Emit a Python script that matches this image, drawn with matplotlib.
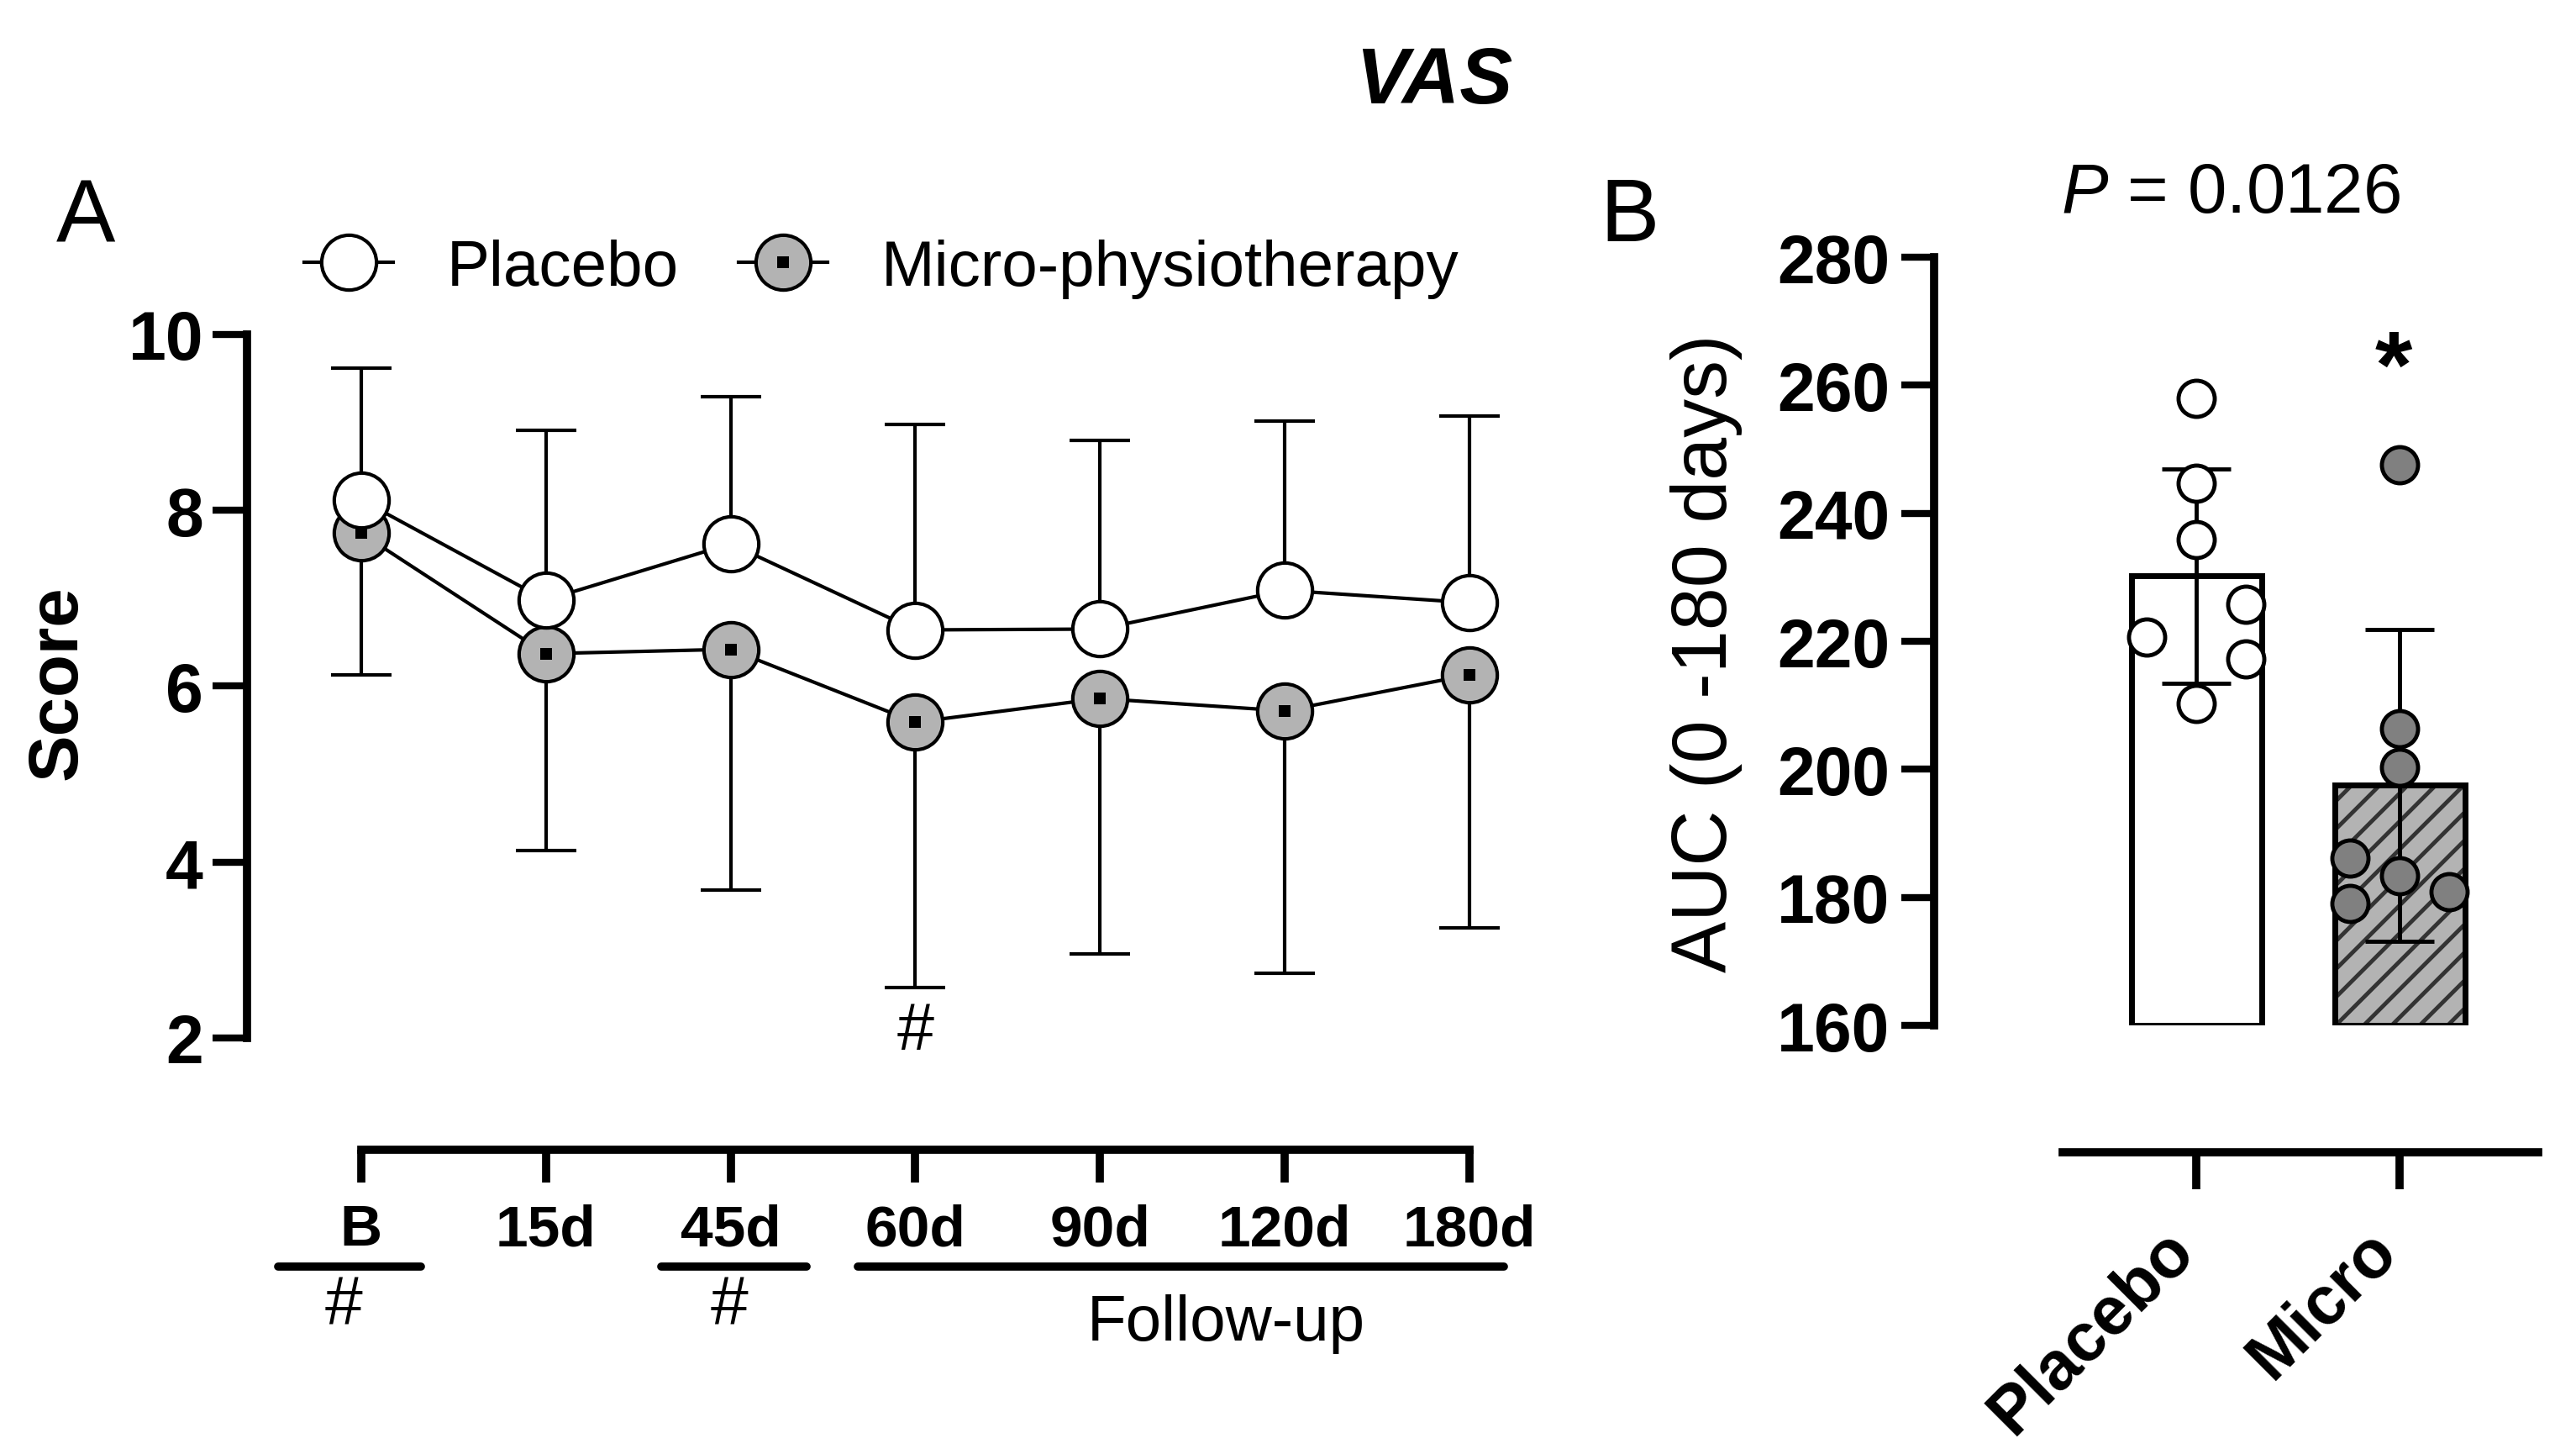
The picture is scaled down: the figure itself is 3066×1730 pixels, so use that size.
import matplotlib
matplotlib.use("Agg")
import matplotlib.pyplot as plt
import matplotlib.transforms as mtransforms

plt.rcParams['font.family'] = 'Liberation Sans'
plt.rcParams['mathtext.fontset'] = 'custom'
plt.rcParams['mathtext.rm'] = 'Liberation Sans'
plt.rcParams['mathtext.it'] = 'Liberation Sans:italic'
plt.rcParams['hatch.linewidth'] = 3.5

# Painel A: escore VAS ao longo do tempo (média, barra de erro de um lado)
timepoints = ['B', '15d', '45d', '60d', '90d', '120d', '180d']
placebo_mean = [8.12, 6.98, 7.62, 6.64, 6.65, 7.09, 6.95]
placebo_upper = [9.62, 8.91, 9.29, 8.98, 8.80, 9.02, 9.07]
micro_mean = [7.74, 6.37, 6.42, 5.59, 5.86, 5.72, 6.13]
micro_lower = [6.13, 4.13, 3.68, 2.57, 2.96, 2.74, 3.25]

# Painel B: AUC (0-180 dias)
groups = ['Placebo', 'Micro']
auc_mean = [230.2, 197.5]
auc_sd = [16.7, 24.3]
auc_placebo = [258.0, 244.7, 235.9, 220.6, 225.8, 217.3, 210.3]
auc_micro = [247.6, 206.3, 200.3, 186.1, 179.1, 183.4, 180.9]

gray = '#b3b3b3'
dark_gray = '#808080'

fig = plt.figure(figsize=(30.66, 17.31), dpi=100)

# ---------------- Painel A ----------------
ax1 = fig.add_axes([0.0959, 0.2860, 0.4961, 0.4835])
x = list(range(len(timepoints)))
ax1.set_xlim(-0.617, 6.3)
ax1.set_ylim(2, 10)

# barras de erro
ax1.vlines(x, micro_mean, micro_lower, color='k', lw=3, zorder=2)
ax1.plot(x, micro_lower, ls='none', marker='_', ms=52, mew=3, color='k', zorder=2, clip_on=False)
ax1.vlines(x, placebo_mean, placebo_upper, color='k', lw=3, zorder=2)
ax1.plot(x, placebo_upper, ls='none', marker='_', ms=52, mew=3, color='k', zorder=2, clip_on=False)

mi_line, = ax1.plot(x, micro_mean, '-o', color='k', lw=3, mfc=gray, mec='k', ms=47, mew=3,
                    zorder=3, clip_on=False)
mi_sq, = ax1.plot(x, micro_mean, 's', color='k', ms=10, mew=0, zorder=4, clip_on=False)
pl_line, = ax1.plot(x, placebo_mean, '-o', color='k', lw=3, mfc='white', mec='k', ms=47, mew=3,
                    zorder=5, clip_on=False)

for s in ['top', 'right']:
    ax1.spines[s].set_visible(False)
ax1.spines['left'].set_linewidth(7)
ax1.spines['bottom'].set_linewidth(7)
ax1.spines['bottom'].set_position(('outward', 95.5))
ax1.spines['bottom'].set_bounds(0, 6)

ax1.set_xticks(x, timepoints, fontweight='bold', fontsize=50)
ax1.set_yticks([2, 4, 6, 8, 10], ['2', '4', '6', '8', '10'], fontweight='bold', fontsize=58)
ax1.tick_params(axis='x', length=28, width=7, pad=18)
ax1.tick_params(axis='y', length=29.5, width=6, pad=8)

ax1.text(3, 2.07, '#', ha='center', va='center', fontsize=57)

# grupos abaixo do eixo x
tr = mtransforms.blended_transform_factory(ax1.transData, fig.transFigure)
for x0, x1 in [(-0.45, 0.325), (1.624, 2.41), (2.69, 6.185)]:
    ax1.plot([x0, x1], [0.129, 0.129], color='k', lw=7, solid_capstyle='round',
             transform=tr, clip_on=False)
ax1.text(-0.093, 0.102, '#', transform=tr, ha='center', va='center', fontsize=58)
ax1.text(1.994, 0.102, '#', transform=tr, ha='center', va='center', fontsize=58)
ax1.text(4.68, 0.0786, 'Follow-up', transform=tr, ha='center', va='baseline', fontsize=55)

fig.legend([pl_line, (mi_line, mi_sq)], ['Placebo', 'Micro-physiotherapy'],
           loc='center left', bbox_to_anchor=(0.118, 0.815), ncol=2, frameon=False,
           fontsize=55, borderpad=0, borderaxespad=0, handlelength=1.39,
           handletextpad=0.84, columnspacing=0.92, numpoints=1)

fig.text(0.0223, 0.531, 'Score', rotation=90, ha='center', va='center',
         fontsize=60, fontweight='bold')

# ---------------- Painel B ----------------
ax2 = fig.add_axes([0.7508, 0.2946, 0.2344, 0.528])
ax2.set_xlim(-1.29, 1.68)
ax2.set_ylim(160, 280)

heights = [m - 160 for m in auc_mean]
ax2.bar(0, heights[0], bottom=160, width=0.64, facecolor='white', edgecolor='k', lw=5, zorder=1)
ax2.bar(1, heights[1], bottom=160, width=0.64, facecolor=gray, edgecolor='#333333', hatch='/',
        lw=0, zorder=1)
ax2.bar(1, heights[1], bottom=160, width=0.64, fill=False, edgecolor='k', lw=5, zorder=1.5)

ax2.errorbar([0, 1], auc_mean, yerr=auc_sd, fmt='none', ecolor='k', elinewidth=3.5,
             capsize=29.5, capthick=3.5, zorder=2)

jitter_pl = [0, 0, 0, -0.245, 0.245, 0.245, 0]
jitter_mi = [0, 0, 0, -0.245, -0.245, 0, 0.245]
ax2.plot([0 + j for j in jitter_pl], auc_placebo, 'o', mfc='white', mec='k', ms=31, mew=3.5,
         zorder=3, clip_on=False)
ax2.plot([1 + j for j in jitter_mi], auc_micro, 'o', mfc=dark_gray, mec='k', ms=31, mew=3.5,
         zorder=3, clip_on=False)

ax2.text(0.97, 258.3, '*', ha='center', va='baseline', fontsize=82, fontweight='bold')

for s in ['top', 'right']:
    ax2.spines[s].set_visible(False)
ax2.spines['left'].set_linewidth(7)
ax2.spines['bottom'].set_linewidth(7)
ax2.spines['bottom'].set_position(('outward', 108.7))
ax2.spines['bottom'].set_bounds(-0.657, 1.68)

ax2.set_yticks(range(160, 281, 20), [str(v) for v in range(160, 281, 20)],
               fontweight='bold', fontsize=58)
ax2.set_xticks([0, 1], groups, fontweight='bold', fontsize=58, rotation=45,
               ha='right', va='baseline', rotation_mode='anchor')
ax2.tick_params(axis='x', length=32, width=7, pad=54)
ax2.tick_params(axis='y', length=28, width=6, pad=10)

fig.text(0.6625, 0.551, 'AUC (0 -180 days)', rotation=90, ha='center', va='center', fontsize=66)
fig.text(0.8661, 0.8538, r'$\mathit{P}$ = 0.0126', ha='center', va='baseline', fontsize=60)

# títulos e letras dos painéis
fig.text(0.5568, 0.943, 'VAS', ha='center', va='center', fontsize=68,
         fontweight='bold', fontstyle='italic')
fig.text(0.0332, 0.8498, 'A', ha='center', va='center', fontsize=76)
fig.text(0.6327, 0.8498, 'B', ha='center', va='center', fontsize=76)

fig.savefig('out.png', dpi=100)
